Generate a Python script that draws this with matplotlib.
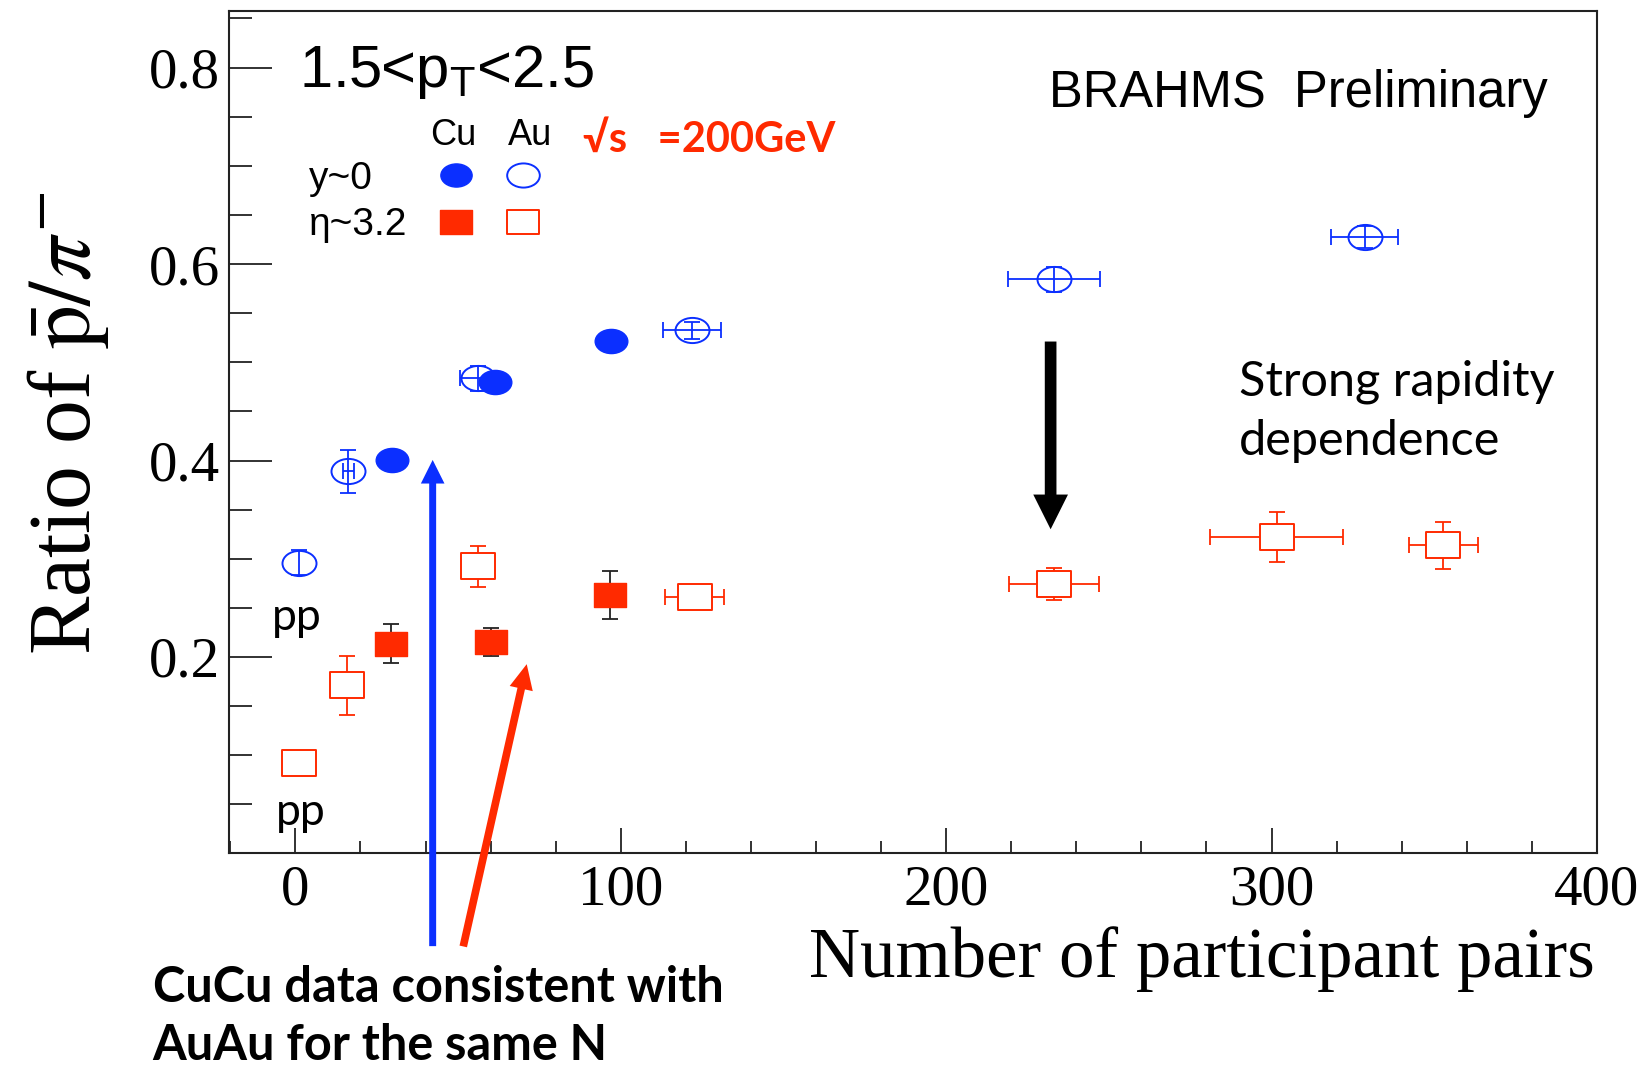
import matplotlib
matplotlib.use("Agg")
import numpy as np
import matplotlib.pyplot as plt
from matplotlib.path import Path
from matplotlib.transforms import Affine2D
from matplotlib.lines import Line2D
from matplotlib.ticker import MultipleLocator, FixedLocator

# ---- data: antiproton / pi- ratio, 1.5 < pT < 2.5 GeV/c ----
au_y0_npart = [1, 16.3, 56.0, 121.9, 233.1, 328.6]
au_y0_ratio = [0.296, 0.389, 0.4835, 0.5325, 0.5845, 0.6276]
au_y0_xerr = [0, 1.6, 5.5, 9.05, 14.2, 10.4]
au_y0_yerr = [0.0127, 0.0222, 0.0129, 0.0085, 0.0127, 0.011]

cu_y0_npart = [29.6, 61.3, 96.9]
cu_y0_ratio = [0.4006, 0.4798, 0.5213]

au_eta_npart = [1, 16.0, 56.0, 122.7, 233.1, 301.6, 352.8]
au_eta_ratio = [0.0916, 0.1712, 0.2923, 0.2607, 0.2741, 0.3222, 0.3138]
au_eta_xerr = [0, 0, 0, 9.1, 13.8, 20.4, 10.6]
au_eta_yerr = [0, 0.0298, 0.021, 0.008, 0.0163, 0.0258, 0.0241]

cu_eta_npart = [29.4, 60.2, 96.7]
cu_eta_ratio = [0.2137, 0.2152, 0.2632]
cu_eta_yerr = [0.0198, 0.014, 0.0242]

y_ticks = [0.2, 0.4, 0.6, 0.8]

BLUE = "#0b2fff"
RED = "#ff2a00"
W, H = 1652, 1065

def fp(x, y):
    """pixel position -> figure fraction"""
    return x / W, 1 - y / H

# elliptical and rectangular ROOT-like markers
ellipse = Affine2D().scale(1.0, 0.74).transform_path(Path.unit_circle())
rect = Path([(-1, -0.75), (1, -0.75), (1, 0.75), (-1, 0.75), (-1, -0.75)],
            [Path.MOVETO, Path.LINETO, Path.LINETO, Path.LINETO, Path.CLOSEPOLY])

fig = plt.figure(figsize=(W / 100, H / 100), dpi=100)
ax = fig.add_axes([0.1384, 0.1986, 0.8283, 0.7915])

MS = 24.5
ELW = 1.3

# Au+Au, y ~ 0 (open circles)
x, y = np.array(au_y0_npart), np.array(au_y0_ratio)
xe, ye = np.array(au_y0_xerr), np.array(au_y0_yerr)
ax.errorbar(x, y, yerr=ye, fmt="none", ecolor=BLUE, elinewidth=ELW,
            capsize=6, capthick=ELW, zorder=2)
m = xe > 0
ax.errorbar(x[m], y[m], xerr=xe[m], fmt="none", ecolor=BLUE, elinewidth=ELW,
            capsize=6, capthick=ELW, zorder=2)
ax.plot(x, y, ls="none", marker=ellipse, ms=MS, mfc="none", mec=BLUE,
        mew=1.4, zorder=3)

# Cu+Cu, y ~ 0 (filled circles)
ax.plot(cu_y0_npart, cu_y0_ratio, ls="none", marker=ellipse, ms=MS - 1,
        mfc=BLUE, mec=BLUE, mew=1.0, zorder=4)

# Au+Au, eta ~ 3.2 (open squares)
x, y = np.array(au_eta_npart), np.array(au_eta_ratio)
xe, ye = np.array(au_eta_xerr), np.array(au_eta_yerr)
m = ye > 0
ax.errorbar(x[m], y[m], yerr=ye[m], fmt="none", ecolor=RED, elinewidth=ELW,
            capsize=6, capthick=ELW, zorder=2)
m = xe > 0
ax.errorbar(x[m], y[m], xerr=xe[m], fmt="none", ecolor=RED, elinewidth=ELW,
            capsize=6, capthick=ELW, zorder=2)
ax.plot(x, y, ls="none", marker=rect, ms=MS, mfc="white", mec=RED,
        mew=1.4, zorder=3)

# Cu+Cu, eta ~ 3.2 (filled squares, black stat. errors)
ax.errorbar(cu_eta_npart, cu_eta_ratio, yerr=cu_eta_yerr, fmt="none",
            ecolor="#222222", elinewidth=ELW, capsize=6, capthick=ELW, zorder=2)
ax.plot(cu_eta_npart, cu_eta_ratio, ls="none", marker=rect, ms=MS - 1,
        mfc=RED, mec=RED, mew=1.0, zorder=4)

# ---- axes ----
ax.set_xlim(-20.5, 400)
ax.set_ylim(0, 0.858)
ax.xaxis.set_major_locator(MultipleLocator(100))
ax.xaxis.set_minor_locator(MultipleLocator(20))
ax.yaxis.set_major_locator(FixedLocator(y_ticks))
ax.yaxis.set_minor_locator(MultipleLocator(0.05))
for s in ax.spines.values():
    s.set_linewidth(1.5)
    s.set_color("#222222")
ax.tick_params(axis="both", which="both", direction="in", top=False,
               right=False, color="#222222", width=1.3)
ax.tick_params(axis="y", which="major", length=31, pad=6)
ax.tick_params(axis="y", which="minor", length=16.5)
ax.tick_params(axis="x", which="major", length=18, pad=8)
ax.tick_params(axis="x", which="minor", length=9)
for lab in ax.get_xticklabels():
    lab.set_fontfamily("Liberation Serif")
    lab.set_fontsize(41)
for lab in ax.get_yticklabels():
    lab.set_fontfamily("Liberation Serif")
    lab.set_fontsize(41)

ax.set_xlabel("Number of participant pairs", fontfamily="Liberation Serif",
              fontsize=51, ha="right", va="baseline")
ax.xaxis.set_label_coords(0.998, -0.1461)
ax.set_ylabel(r"Ratio of $\bar{\mathrm{p}}/\pi^{-}$",
              fontfamily="Liberation Serif", math_fontfamily="stix",
              fontsize=63, ha="center", va="center")
ax.yaxis.set_label_coords(-0.1174, 0.51)

# ---- legend (rows: rapidity, columns: system) ----
blank = Line2D([], [], ls="none")
h_cu_y0 = Line2D([], [], ls="none", marker=ellipse, ms=MS - 2, mfc=BLUE, mec=BLUE)
h_cu_eta = Line2D([], [], ls="none", marker=rect, ms=MS - 2, mfc=RED, mec=RED)
h_au_y0 = Line2D([], [], ls="none", marker=ellipse, ms=MS - 1, mfc="none",
                 mec=BLUE, mew=1.4)
h_au_eta = Line2D([], [], ls="none", marker=rect, ms=MS - 1, mfc="none",
                  mec=RED, mew=1.4)
leg = ax.legend([blank, blank, h_cu_y0, h_cu_eta, h_au_y0, h_au_eta],
                ["y~0", "η~3.2", "", "", "", ""], ncol=3, loc="upper left",
                bbox_to_anchor=(0.041, 0.822), frameon=False, borderpad=0,
                borderaxespad=0, handlelength=0.3, handletextpad=0.32,
                columnspacing=1.10, labelspacing=0.28,
                prop={"family": "Liberation Sans", "size": 28})
fig.text(*fp(453, 145), "Cu", family="Liberation Sans", fontsize=26,
         ha="center", va="baseline")
fig.text(*fp(530.5, 145), "Au", family="Liberation Sans", fontsize=26,
         ha="center", va="baseline")

fig.text(*fp(298.8, 86.7), r"1.5<p$_\mathregular{T}$<2.5",
         family="Liberation Sans", fontsize=43, ha="left", va="baseline")
fig.text(*fp(1298.5, 106.7), "BRAHMS  Preliminary", family="Liberation Sans",
         fontsize=36.5, ha="center", va="baseline")
fig.text(*fp(582.8, 152), "√s   =200GeV", family=["Lato", "DejaVu Sans"],
         fontweight="bold", color=RED, fontsize=30, ha="left", va="baseline")

# multi-line labels: y is the baseline of the last line
fig.text(*fp(1239, 455), "Strong rapidity\ndependence", family="Lato",
         fontsize=35, ha="left", va="baseline", linespacing=1.41)
fig.text(*fp(272, 630.4), "pp", family="Lato", fontsize=32, ha="left",
         va="baseline")
fig.text(*fp(275.4, 825.4), "pp", family="Lato", fontsize=32, ha="left",
         va="baseline")
fig.text(*fp(152.7, 1060), "CuCu data consistent with\nAuAu for the same N",
         family="Lato", fontweight="bold", fontsize=35, ha="left",
         va="baseline", linespacing=1.345)

# ---- arrows ----
ax.annotate("", xy=(42.2, 0.4006), xytext=(42.2, -0.0943),
            arrowprops=dict(width=5, headwidth=17, headlength=17, shrink=0,
                            facecolor=BLUE, edgecolor="none"),
            annotation_clip=False)
ax.annotate("", xy=(71.1, 0.1927), xytext=(51.6, -0.0946),
            arrowprops=dict(width=5.5, headwidth=17, headlength=18, shrink=0,
                            facecolor=RED, edgecolor="none"),
            annotation_clip=False)
ax.annotate("", xy=(232.1, 0.330), xytext=(232.1, 0.5211),
            arrowprops=dict(width=8.4, headwidth=25, headlength=25, shrink=0,
                            facecolor="black", edgecolor="none"),
            annotation_clip=False)

fig.savefig("out.png", dpi=100)
